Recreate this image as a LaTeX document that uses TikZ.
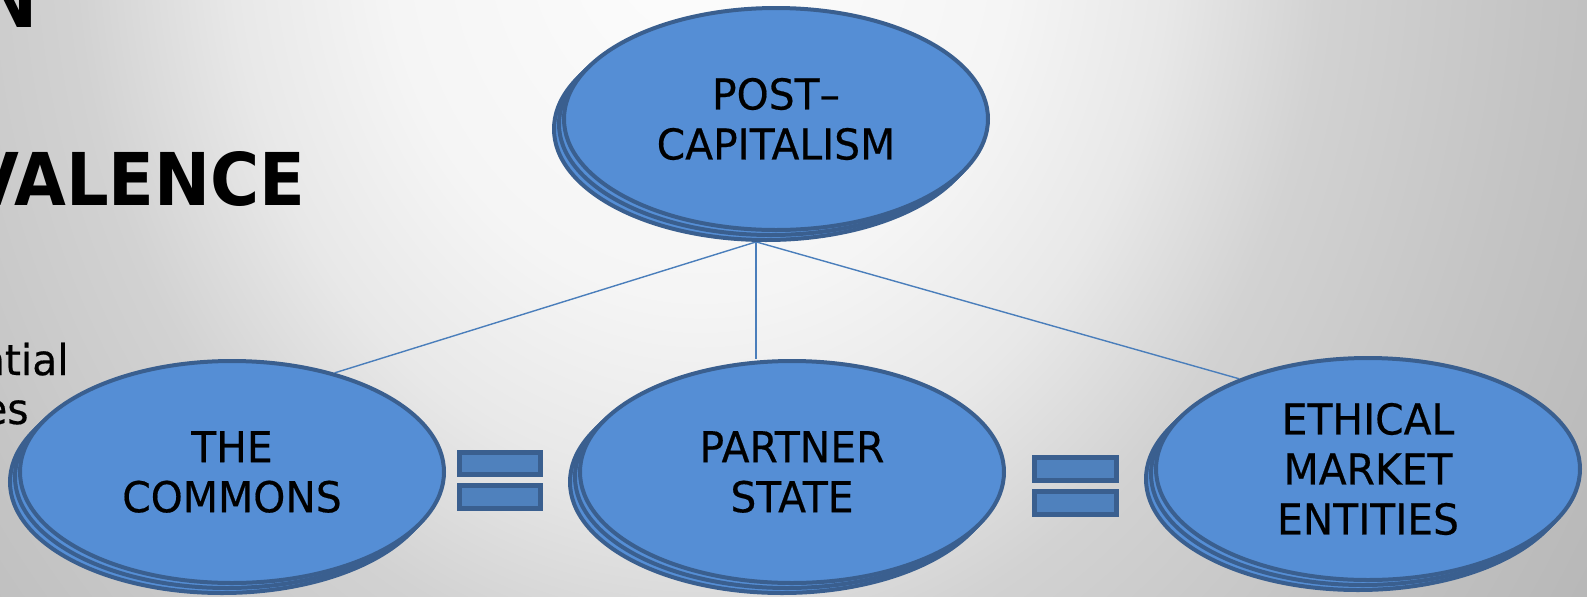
\documentclass[tikz,border=0pt]{standalone}
\usepackage{fontspec}
\setmainfont{DejaVu Sans}
\newfontfamily\ellfont{DejaVu Sans}[FakeStretch=0.96,FakeBold=0.4]
\newfontfamily\hdfont{DejaVu Sans}[FakeStretch=0.92]
\usetikzlibrary{shapes.geometric,backgrounds}
\definecolor{ellfill}{HTML}{558ED5}
\definecolor{ellborder}{HTML}{3A5F8F}
\definecolor{eqfill}{HTML}{4F81BD}
\definecolor{eqborder}{HTML}{3A5F8F}
\definecolor{connc}{HTML}{4A7EBB}
\definecolor{bgA}{HTML}{FDFDFD}
\definecolor{bgB}{HTML}{F5F5F5}
\definecolor{bgC}{HTML}{E8E8E8}
\definecolor{bgD}{HTML}{D2D2D2}
\definecolor{bgE}{HTML}{CBCBCB}
\definecolor{bgF}{HTML}{C4C4C4}
\definecolor{bgG}{HTML}{BEBEBE}
\definecolor{bgH}{HTML}{B8B8B8}
\definecolor{bgI}{HTML}{AFAFAF}
\pgfdeclareradialshading{bgshade}{\pgfpoint{0bp}{0bp}}{color(0bp)=(bgA); color(12.5bp)=(bgB); color(18.75bp)=(bgC); color(25bp)=(bgD); color(29.17bp)=(bgE); color(33.33bp)=(bgF); color(37.5bp)=(bgG); color(41.67bp)=(bgH); color(50bp)=(bgI)}
\tikzset{
  ell/.style={ellipse, draw=ellborder, fill=ellfill, line width=2pt,
    minimum width=212pt, minimum height=111pt, inner sep=0pt, align=center,
    text=black, font=\ellfont\fontsize{21.25pt}{25pt}\selectfont},
  eqbar/.style={rectangle, draw=eqborder, fill=eqfill, line width=2.5pt, inner sep=0pt},
  conn/.style={draw=connc, line width=0.7pt},
  sidetext/.style={inner sep=0pt, text=black, font=\ellfont\fontsize{21.25pt}{25pt}\selectfont},
  headtext/.style={inner sep=0pt, text=black, font=\hdfont\bfseries\fontsize{36.4pt}{40pt}\selectfont}
}
\begin{document}
\begin{tikzpicture}[x=0.5pt,y=-0.5pt]
\useasboundingbox (0,0) rectangle (1587,596);
\begin{pgfonlayer}{background}
  \begin{scope}
    \clip (0,0) rectangle (1587,596);
    \node[inner sep=0pt, outer sep=0pt, xscale=12.5, yscale=15, transform shape] (bg) at (700,-80) {\pgfuseshading{bgshade}};
  \end{scope}
\end{pgfonlayer}
\begin{scope}
  \clip (0,0) rectangle (1587,596);
  % partially visible slide text
  \node[headtext, anchor=base east] (hN) at (38,27) {N};
  \node[headtext, anchor=base east] (hV) at (306,205) {VALENCE};
  \node[sidetext, anchor=base east] (s1) at (69,375) {ntial};
  \node[sidetext, anchor=base east] (s2) at (29,424) {es};
  % top ellipse
  \node[ell] (P3) at (766,129) {};
  \node[ell] (P2) at (771,124) {};
  \node[ell] (P) at (776,119) {POST–\\CAPITALISM};
  % bottom ellipses
  \node[ell] (C3) at (222,482) {};
  \node[ell] (C2) at (227,477) {};
  \node[ell] (C) at (232,472) {THE\\COMMONS};
  \node[ell] (M3) at (782,482) {};
  \node[ell] (M2) at (787,477) {};
  \node[ell] (M) at (792,472) {PARTNER\\STATE};
  \node[ell] (E3) at (1358,479) {};
  \node[ell] (E2) at (1363,474) {};
  \node[ell] (E) at (1368,469) {ETHICAL\\MARKET\\ENTITIES};
  % equal signs
  \node[eqbar, minimum width=40.5pt, minimum height=11pt] (q1a) at (500,463.5) {};
  \node[eqbar, minimum width=40.5pt, minimum height=11.5pt] (q1b) at (500,497) {};
  \node[eqbar, minimum width=41pt, minimum height=11.5pt] (q2a) at (1075.5,469) {};
  \node[eqbar, minimum width=41pt, minimum height=11.5pt] (q2b) at (1075.5,503) {};
\end{scope}
\begin{pgfonlayer}{background}
  \draw[conn] (P3.265) -- (C.44);
  \draw[conn] (P3.265) -- (P3.265 |- M.north);
  \draw[conn] (P3.265) -- (E.145);
\end{pgfonlayer}
\end{tikzpicture}
\end{document}
